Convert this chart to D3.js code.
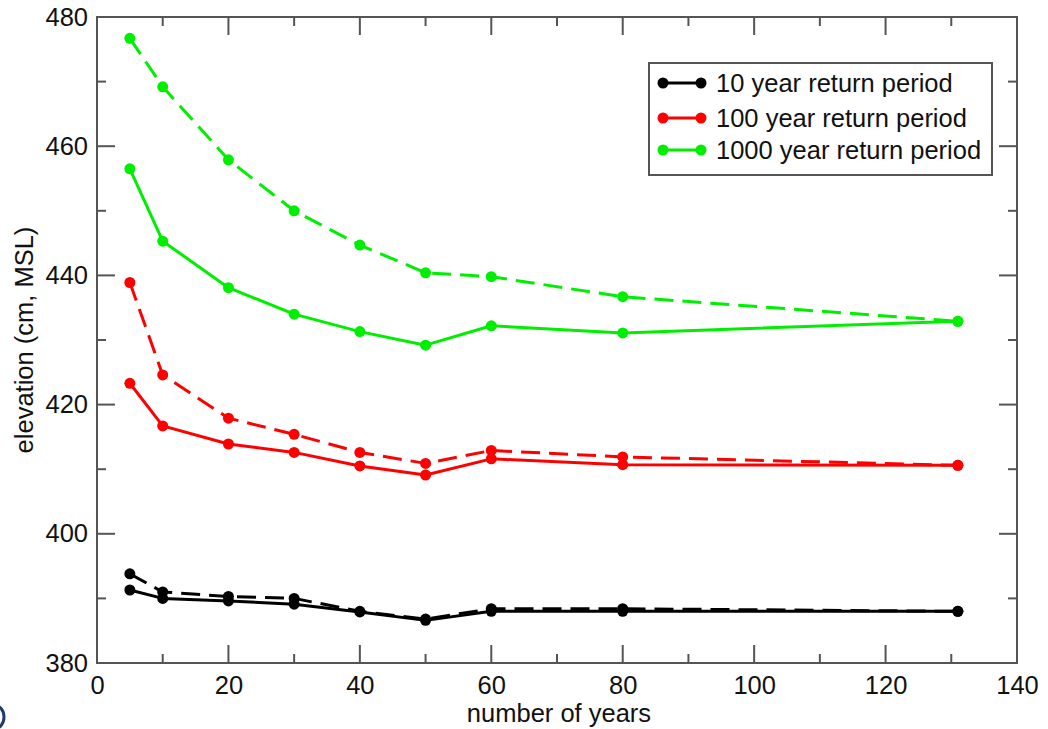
<!DOCTYPE html>
<html><head><meta charset="utf-8">
<script src="https://cdn.jsdelivr.net/npm/d3@7/dist/d3.min.js"></script>
<style>html,body{margin:0;padding:0;background:#fff;}svg{display:block;font-family:"Liberation Sans",Arial,sans-serif;}</style>
</head><body>
<svg id="chart" width="1048" height="729"></svg>
<script>
const years = [5, 10, 20, 30, 40, 50, 60, 80, 131];
const rp10Solid   = [391.3, 390.0, 389.6, 389.1, 387.9, 386.6, 388.0, 388.0, 388.0];
const rp10Dashed  = [393.8, 391.0, 390.3, 390.0, 388.0, 386.8, 388.4, 388.4, 388.0];
const rp100Solid  = [423.3, 416.7, 413.9, 412.6, 410.5, 409.1, 411.6, 410.7, 410.6];
const rp100Dashed = [438.9, 424.6, 417.9, 415.4, 412.6, 410.9, 412.9, 411.9, 410.6];
const rp1000Solid = [456.5, 445.3, 438.1, 434.0, 431.3, 429.2, 432.2, 431.1, 432.9];
const rp1000Dashed= [476.7, 469.2, 457.9, 450.0, 444.7, 440.4, 439.8, 436.7, 432.9];
const legendLabels = ["10 year return period", "100 year return period", "1000 year return period"];
const seriesColors = ["#000000", "#ff0000", "#00ee00"];
const xTicks = [0, 20, 40, 60, 80, 100, 120, 140];
const yTicks = [380, 400, 420, 440, 460, 480];

const svg = d3.select("#chart");
const L = 97, R = 1017, T = 17, B = 663;
const x = d3.scaleLinear().domain([0, 140]).range([L, R]);
const y = d3.scaleLinear().domain([380, 480]).range([B, T]);
const frameColor = "#555";
const FS = 25.5;

// minor + major ticks
const g = svg.append("g");
const majorLen = 18, minorLen = 9;
const xMinor = d3.range(0, 141, 10);
const yMinor = d3.range(380, 481, 10);
xMinor.forEach(v => {
  const len = (v % 20 === 0) ? majorLen : minorLen;
  g.append("line").attr("x1", x(v)).attr("x2", x(v)).attr("y1", B).attr("y2", B - len).attr("stroke", frameColor).attr("stroke-width", 2);
  g.append("line").attr("x1", x(v)).attr("x2", x(v)).attr("y1", T).attr("y2", T + len).attr("stroke", frameColor).attr("stroke-width", 2);
});
yMinor.forEach(v => {
  const len = (v % 20 === 0) ? majorLen : minorLen;
  g.append("line").attr("x1", L).attr("x2", L + len).attr("y1", y(v)).attr("y2", y(v)).attr("stroke", frameColor).attr("stroke-width", 2);
  g.append("line").attr("x1", R).attr("x2", R - len).attr("y1", y(v)).attr("y2", y(v)).attr("stroke", frameColor).attr("stroke-width", 2);
});

// axes labels via d3 axes (no tick lines)
const xAxis = svg.append("g").attr("transform", `translate(0,${B})`)
  .call(d3.axisBottom(x).tickValues(xTicks).tickSize(0).tickPadding(13).tickFormat(d3.format("d")));
xAxis.select(".domain").remove();
xAxis.selectAll("text").attr("font-size", FS).attr("fill", "#111").attr("font-family", "Liberation Sans, Arial, sans-serif");

const yAxis = svg.append("g").attr("transform", `translate(${L},0)`)
  .call(d3.axisLeft(y).tickValues(yTicks).tickSize(0).tickPadding(9).tickFormat(d3.format("d")));
yAxis.select(".domain").remove();
yAxis.selectAll("text").attr("font-size", FS).attr("fill", "#111").attr("font-family", "Liberation Sans, Arial, sans-serif");

// frame
svg.append("rect").attr("x", L).attr("y", T).attr("width", R - L).attr("height", B - T)
  .attr("fill", "none").attr("stroke", frameColor).attr("stroke-width", 2);

// axis titles
svg.append("text").attr("x", 559).attr("y", 722).attr("text-anchor", "middle")
  .attr("font-size", FS).attr("fill", "#111").text("number of years");
svg.append("text").attr("transform", `translate(33,${(T + B) / 2}) rotate(-90)`).attr("text-anchor", "middle")
  .attr("font-size", FS).attr("fill", "#111").text("elevation (cm, MSL)");

// series
const series = [
  {vals: rp10Solid, c: 0, dash: null},
  {vals: rp10Dashed, c: 0, dash: "19,9"},
  {vals: rp100Solid, c: 1, dash: null},
  {vals: rp100Dashed, c: 1, dash: "19,9"},
  {vals: rp1000Solid, c: 2, dash: null},
  {vals: rp1000Dashed, c: 2, dash: "19,9"}
];
const line = d3.line().x((d, i) => x(years[i])).y(d => y(d));
series.forEach(s => {
  const col = seriesColors[s.c];
  svg.append("path").datum(s.vals).attr("d", line).attr("fill", "none")
    .attr("stroke", col).attr("stroke-width", 3)
    .attr("stroke-dasharray", s.dash).attr("stroke-linejoin", "round");
  svg.append("g").selectAll("circle").data(s.vals).join("circle")
    .attr("cx", (d, i) => x(years[i])).attr("cy", d => y(d)).attr("r", 5.5).attr("fill", col);
});

// legend
const lg = svg.append("g");
lg.append("rect").attr("x", 649).attr("y", 63).attr("width", 343).attr("height", 112)
  .attr("fill", "#fff").attr("stroke", frameColor).attr("stroke-width", 2);
const rowsY = [83, 118, 150];
legendLabels.forEach((lab, i) => {
  const col = seriesColors[i];
  lg.append("line").attr("x1", 663).attr("x2", 701).attr("y1", rowsY[i]).attr("y2", rowsY[i]).attr("stroke", col).attr("stroke-width", 3);
  lg.append("circle").attr("cx", 663).attr("cy", rowsY[i]).attr("r", 5.5).attr("fill", col);
  lg.append("circle").attr("cx", 701).attr("cy", rowsY[i]).attr("r", 5.5).attr("fill", col);
  lg.append("text").attr("x", 716).attr("y", rowsY[i]).attr("dy", "0.36em").attr("font-size", FS).attr("fill", "#111").text(lab);
});

// partial label artifact at bottom-left
svg.append("ellipse").attr("cx", -6).attr("cy", 717).attr("rx", 10).attr("ry", 12)
  .attr("fill", "none").attr("stroke", "#1f3b73").attr("stroke-width", 3);
</script>
</body></html>
